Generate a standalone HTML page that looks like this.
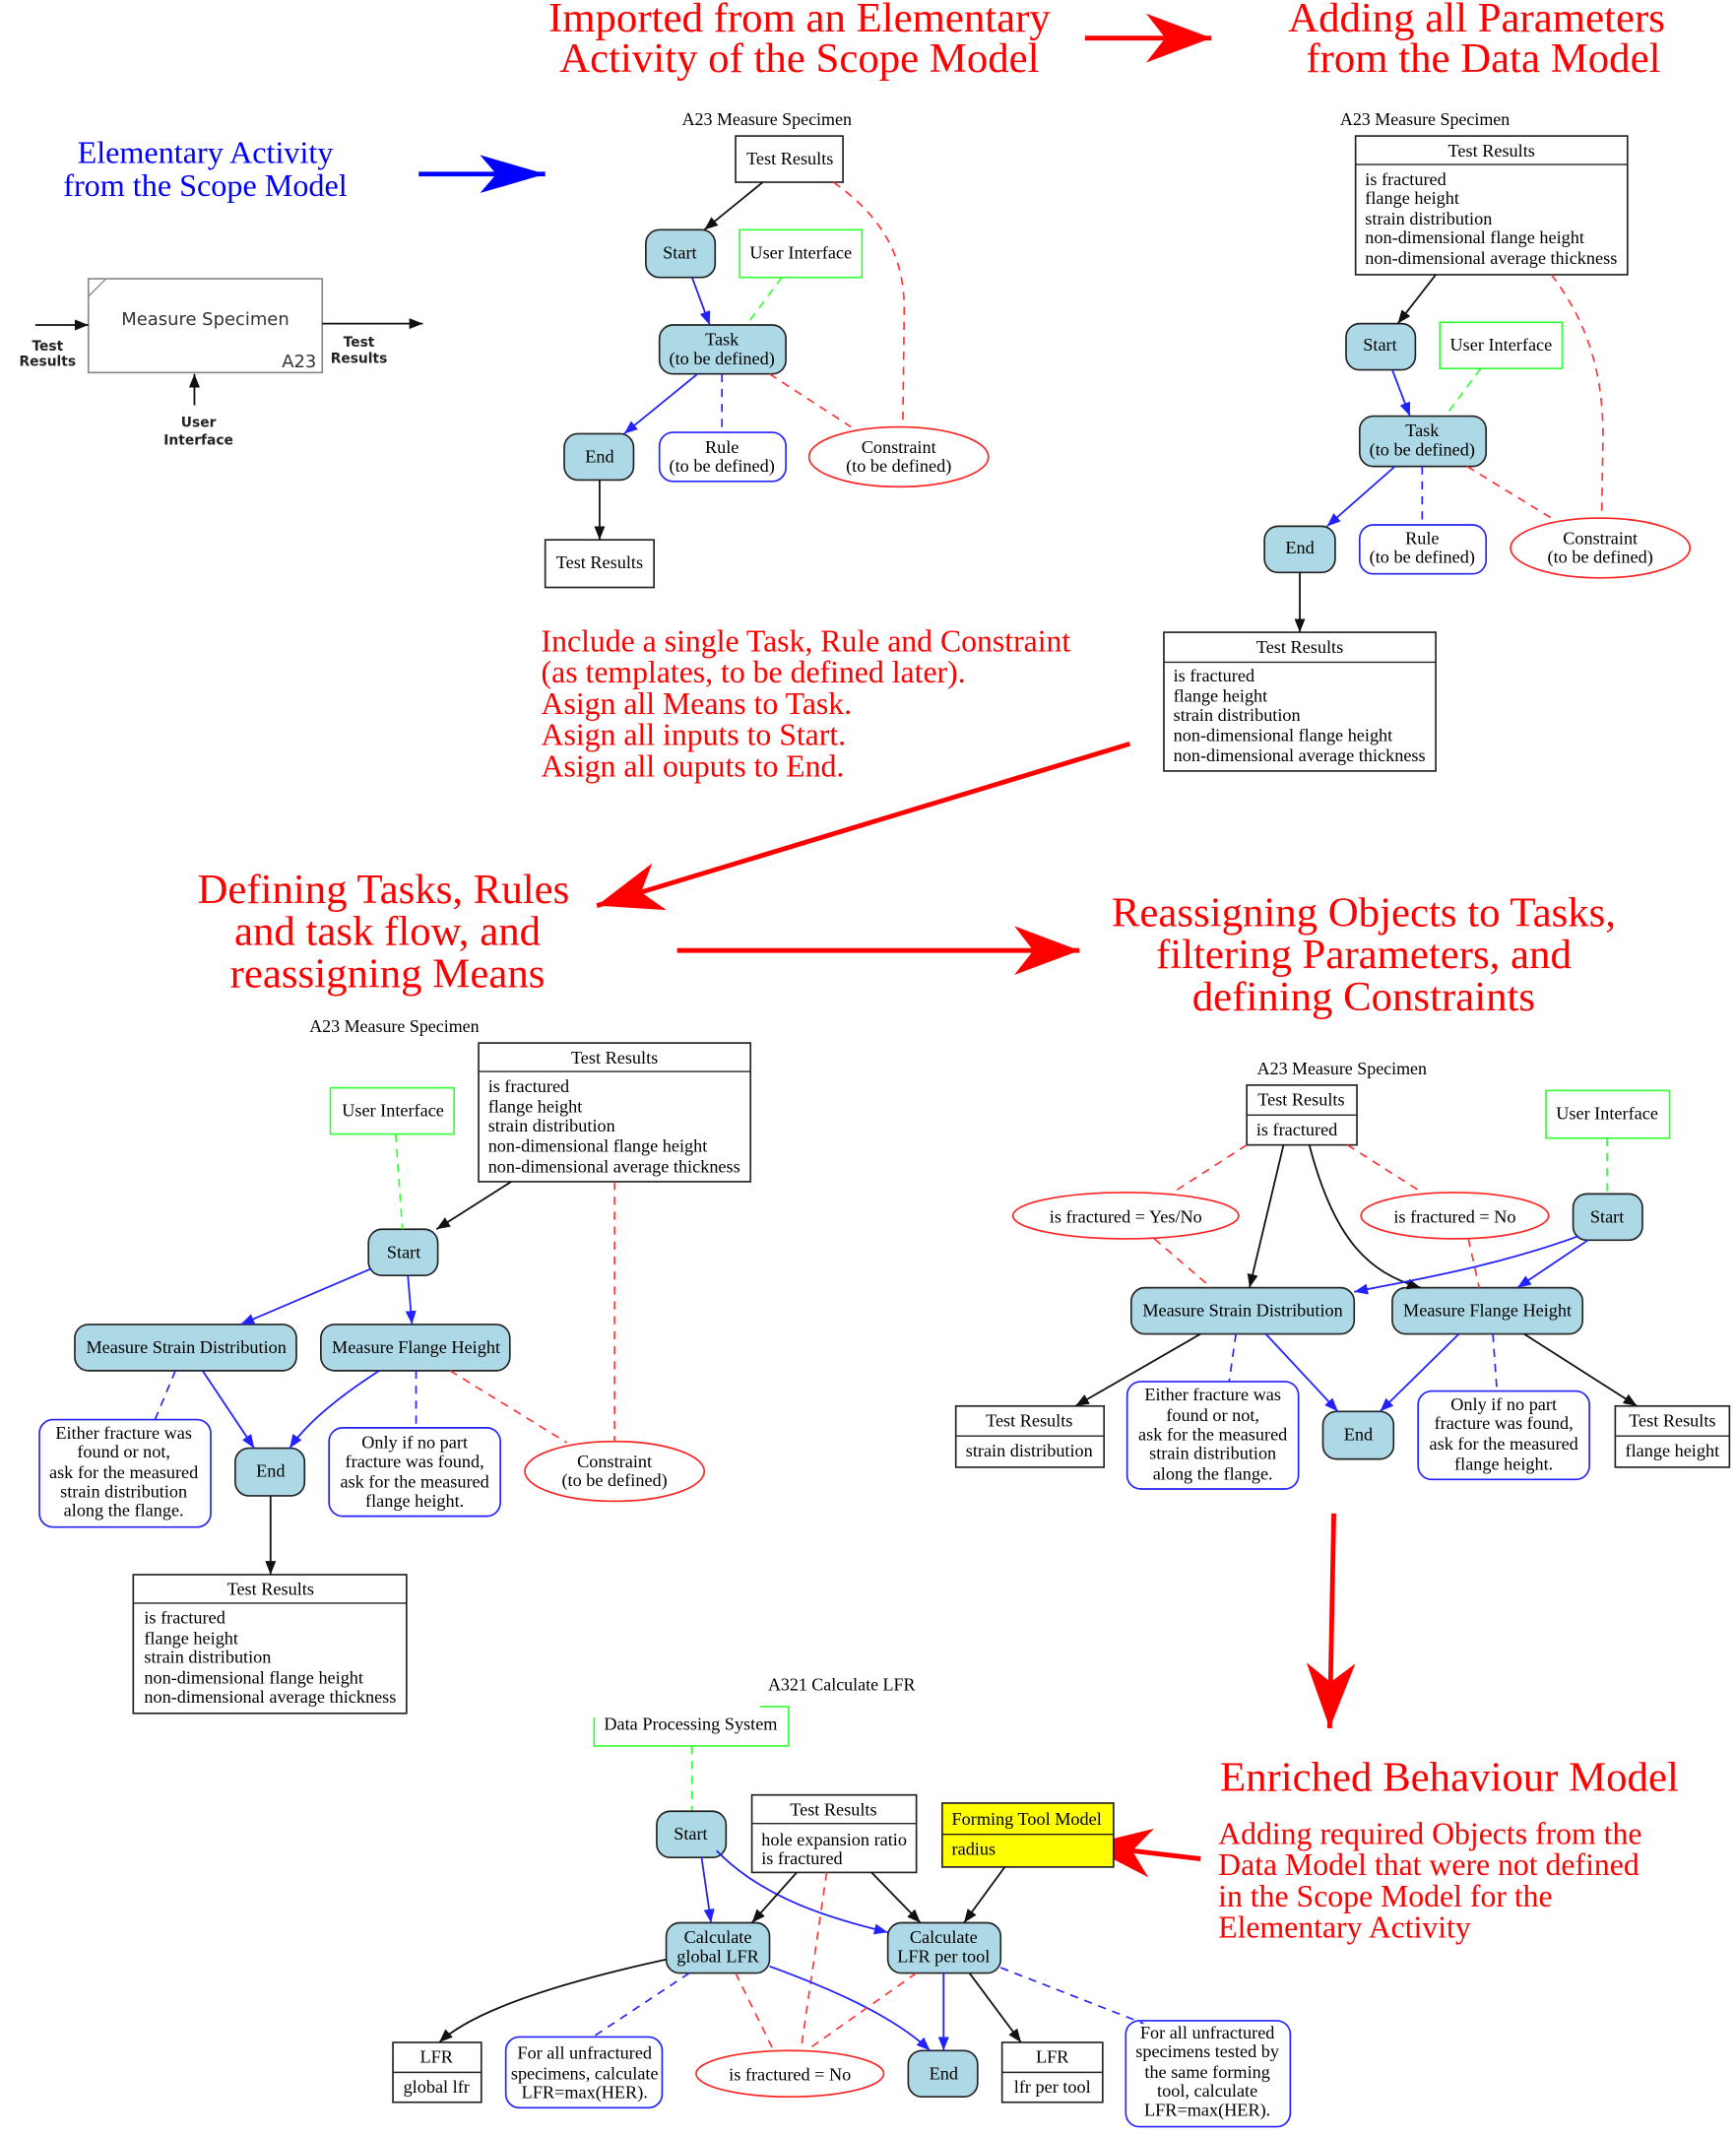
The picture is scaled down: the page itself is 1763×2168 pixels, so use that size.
<!DOCTYPE html>
<html><head><meta charset="utf-8"><style>
html,body{margin:0;padding:0;background:#fff}
svg{display:block}
text{font-family:"Liberation Serif",serif}
.n{font-size:13.2px;text-anchor:middle}
.l{font-size:13.2px}
.h{font-size:31px;fill:#f00;text-anchor:middle}
.r{font-size:23px;fill:#f00}
.tl{font-size:13px;text-anchor:middle}
.node{fill:#add8e6;stroke:#222;stroke-width:1.2}
.box{fill:#fff;stroke:#222;stroke-width:1.2}
.gb{fill:#fff;stroke:#3f3;stroke-width:1.2}
.bn{fill:#fff;stroke:#22f;stroke-width:1.2}
.ce{fill:#fff;stroke:#f22;stroke-width:1.2}
.k{stroke:#111;stroke-width:1.3;fill:none;marker-end:url(#ak)}
.b{stroke:#22f;stroke-width:1.3;fill:none;marker-end:url(#ab)}
.bd{stroke:#22f;stroke-width:1.2;fill:none;stroke-dasharray:6,5}
.rd{stroke:#f33;stroke-width:1.2;fill:none;stroke-dasharray:6,5}
.gd{stroke:#3f3;stroke-width:1.2;fill:none;stroke-dasharray:6,5}
.R{stroke:#f00;stroke-width:3.5;fill:none;marker-end:url(#aR)}
.B{stroke:#00f;stroke-width:3.5;fill:none;marker-end:url(#aB)}
.s,.s text{font-family:"DejaVu Sans",sans-serif}
</style></head><body>
<svg width="1763" height="2168" viewBox="0 0 1280 1574" preserveAspectRatio="none" xmlns="http://www.w3.org/2000/svg">
<defs>
<marker id="ak" markerUnits="userSpaceOnUse" markerWidth="11" markerHeight="8" refX="10" refY="4" orient="auto"><path d="M0,0 L10,4 L0,8 z" fill="#111"/></marker>
<marker id="ab" markerUnits="userSpaceOnUse" markerWidth="11" markerHeight="8" refX="10" refY="4" orient="auto"><path d="M0,0 L10,4 L0,8 z" fill="#22f"/></marker>
<marker id="aR" markerUnits="userSpaceOnUse" markerWidth="50" markerHeight="40" refX="48" refY="20" orient="auto"><path d="M0,2 L48,20 L0,38 L14,20 z" fill="#f00"/></marker>
<marker id="aB" markerUnits="userSpaceOnUse" markerWidth="50" markerHeight="40" refX="48" refY="20" orient="auto"><path d="M0,6 L48,20 L0,34 L12,20 z" fill="#00f"/></marker>
</defs>
<g transform="translate(1,1) scale(1.0025)">
<!-- headings -->
<text class="h" x="587" y="22">Imported from an Elementary</text>
<text class="h" x="587" y="52">Activity of the Scope Model</text>
<line class="R" x1="797" y1="27" x2="890" y2="27"/>
<text class="h" x="1085" y="22">Adding all Parameters</text>
<text class="h" x="1090" y="52">from the Data Model</text>
<text x="150" y="119" style="font-size:23.3px;fill:#00f;text-anchor:middle">Elementary Activity</text>
<text x="150" y="143" style="font-size:23.3px;fill:#00f;text-anchor:middle">from the Scope Model</text>
<line class="B" x1="307" y1="127" x2="400" y2="127"/>

<!-- IDEF0 -->
<rect x="64" y="204" width="172" height="69" fill="#fff" stroke="#888" stroke-width="1.2"/>
<line x1="64" y1="217" x2="77" y2="204" stroke="#888"/>
<g class="s"><text x="150" y="238" style="font-size:13px;text-anchor:middle;fill:#333">Measure Specimen</text>
<text x="219" y="269" style="font-size:13px;text-anchor:middle;fill:#333">A23</text></g>
<line class="k" x1="25" y1="238" x2="64" y2="238"/>
<line class="k" x1="236" y1="237" x2="310" y2="237"/>
<line class="k" x1="142" y1="297" x2="142" y2="274"/>
<g class="s" style="font-size:10px;font-weight:bold;fill:#222;text-anchor:middle">
<text x="34" y="257">Test</text><text x="34" y="268">Results</text>
<text x="263" y="254">Test</text><text x="263" y="266">Results</text>
<text x="145" y="313">User</text><text x="145" y="326">Interface</text></g>

<!-- Diagram 1 -->
<text class="tl" x="563" y="91">A23 Measure Specimen</text>
<rect class="box" x="540" y="99" width="79" height="34"/><text class="n" x="580" y="120">Test Results</text>
<rect class="node" x="474" y="168" width="51" height="35" rx="10"/><text class="n" x="499" y="189">Start</text>
<rect class="gb" x="543" y="168" width="90" height="35"/><text class="n" x="588" y="189">User Interface</text>
<rect class="node" x="484" y="238" width="93" height="36" rx="10"/><text class="n" x="530" y="253">Task</text><text class="n" x="530" y="267">(to be defined)</text>
<rect class="node" x="414" y="318" width="51" height="34" rx="10"/><text class="n" x="440" y="339">End</text>
<rect class="bn" x="484" y="317" width="93" height="36" rx="10"/><text class="n" x="530" y="332">Rule</text><text class="n" x="530" y="346">(to be defined)</text>
<ellipse class="ce" cx="660" cy="335" rx="66" ry="22"/><text class="n" x="660" y="332">Constraint</text><text class="n" x="660" y="346">(to be defined)</text>
<rect class="box" x="400" y="396" width="80" height="35"/><text class="n" x="440" y="417">Test Results</text>
<line class="k" x1="560" y1="133" x2="517" y2="168"/>
<line class="b" x1="508" y1="203" x2="521" y2="238"/>
<line class="gd" x1="574" y1="203" x2="548" y2="238"/>
<line class="b" x1="512" y1="274" x2="458" y2="318"/>
<line class="bd" x1="530" y1="274" x2="530" y2="317"/>
<line class="rd" x1="565" y1="274" x2="625" y2="313"/>
<path class="rd" d="M612,133 C650,160 665,190 664,230 L663,313"/>
<line class="k" x1="440" y1="352" x2="440" y2="396"/>

<!-- Diagram 2 -->
<text class="tl" x="1047" y="91">A23 Measure Specimen</text>
<rect class="box" x="996" y="99" width="200" height="102"/><line x1="996" y1="120" x2="1196" y2="120" stroke="#222"/>
<text class="n" x="1096" y="114">Test Results</text>
<g class="l"><text x="1003" y="135">is fractured</text><text x="1003" y="149">flange height</text><text x="1003" y="164">strain distribution</text><text x="1003" y="178">non-dimensional flange height</text><text x="1003" y="193">non-dimensional average thickness</text></g>
<rect class="node" x="989" y="237" width="51" height="34" rx="10"/><text class="n" x="1014" y="257">Start</text>
<rect class="gb" x="1058" y="236" width="90" height="34"/><text class="n" x="1103" y="257">User Interface</text>
<rect class="node" x="999" y="305" width="93" height="37" rx="10"/><text class="n" x="1045" y="320">Task</text><text class="n" x="1045" y="334">(to be defined)</text>
<rect class="node" x="929" y="386" width="52" height="34" rx="10"/><text class="n" x="955" y="406">End</text>
<rect class="bn" x="999" y="385" width="93" height="36" rx="10"/><text class="n" x="1045" y="399">Rule</text><text class="n" x="1045" y="413">(to be defined)</text>
<ellipse class="ce" cx="1176" cy="402" rx="66" ry="22"/><text class="n" x="1176" y="399">Constraint</text><text class="n" x="1176" y="413">(to be defined)</text>
<rect class="box" x="855" y="464" width="200" height="102"/><line x1="855" y1="486" x2="1055" y2="486" stroke="#222"/>
<text class="n" x="955" y="479">Test Results</text>
<g class="l"><text x="862" y="500">is fractured</text><text x="862" y="515">flange height</text><text x="862" y="529">strain distribution</text><text x="862" y="544">non-dimensional flange height</text><text x="862" y="559">non-dimensional average thickness</text></g>
<line class="k" x1="1055" y1="201" x2="1027" y2="237"/>
<line class="b" x1="1023" y1="271" x2="1036" y2="305"/>
<line class="gd" x1="1088" y1="270" x2="1062" y2="305"/>
<line class="b" x1="1025" y1="342" x2="975" y2="386"/>
<line class="bd" x1="1045" y1="342" x2="1045" y2="385"/>
<line class="rd" x1="1078" y1="342" x2="1140" y2="380"/>
<path class="rd" d="M1140,201 C1170,240 1178,280 1178,320 L1177,380"/>
<line class="k" x1="955" y1="420" x2="955" y2="464"/>

<g class="r"><text x="397" y="478">Include a single Task, Rule and Constraint</text><text x="397" y="501">(as templates, to be defined later).</text><text x="397" y="524">Asign all Means to Task.</text><text x="397" y="547">Asign all inputs to Start.</text><text x="397" y="570">Asign all ouputs to End.</text></g>
<line class="R" x1="830" y1="546" x2="438" y2="665"/>

<text class="h" x="281" y="663">Defining Tasks, Rules</text>
<text class="h" x="284" y="694">and task flow, and</text>
<text class="h" x="284" y="725">reassigning Means</text>
<line class="R" x1="497" y1="698" x2="793" y2="698"/>
<text class="h" x="1002" y="680">Reassigning Objects to Tasks,</text>
<text class="h" x="1002" y="711">filtering Parameters, and</text>
<text class="h" x="1002" y="742">defining Constraints</text>

<!-- Diagram 3 -->
<text class="tl" x="289" y="758">A23 Measure Specimen</text>
<rect class="box" x="351" y="766" width="200" height="102"/><line x1="351" y1="787" x2="551" y2="787" stroke="#222"/>
<text class="n" x="451" y="781">Test Results</text>
<g class="l"><text x="358" y="802">is fractured</text><text x="358" y="817">flange height</text><text x="358" y="831">strain distribution</text><text x="358" y="846">non-dimensional flange height</text><text x="358" y="861">non-dimensional average thickness</text></g>
<rect class="gb" x="242" y="799" width="91" height="34"/><text class="n" x="288" y="820">User Interface</text>
<rect class="node" x="270" y="903" width="51" height="34" rx="10"/><text class="n" x="296" y="924">Start</text>
<rect class="node" x="54" y="973" width="163" height="34" rx="10"/><text class="n" x="136" y="994">Measure Strain Distribution</text>
<rect class="node" x="235" y="973" width="139" height="34" rx="10"/><text class="n" x="305" y="994">Measure Flange Height</text>
<rect class="node" x="172" y="1064" width="51" height="35" rx="10"/><text class="n" x="198" y="1085">End</text>
<rect class="bn" x="28" y="1043" width="126" height="79" rx="10"/>
<g class="n"><text x="90" y="1057">Either fracture was</text><text x="90" y="1071">found or not,</text><text x="90" y="1086">ask for the measured</text><text x="90" y="1100">strain distribution</text><text x="90" y="1114">along the flange.</text></g>
<rect class="bn" x="241" y="1049" width="126" height="65" rx="10"/>
<g class="n"><text x="304" y="1064">Only if no part</text><text x="304" y="1078">fracture was found,</text><text x="304" y="1093">ask for the measured</text><text x="304" y="1107">flange height.</text></g>
<ellipse class="ce" cx="451" cy="1081" rx="66" ry="22"/><text class="n" x="451" y="1078">Constraint</text><text class="n" x="451" y="1092">(to be defined)</text>
<rect class="box" x="97" y="1157" width="201" height="102"/><line x1="97" y1="1178" x2="298" y2="1178" stroke="#222"/>
<text class="n" x="198" y="1172">Test Results</text>
<g class="l"><text x="105" y="1193">is fractured</text><text x="105" y="1208">flange height</text><text x="105" y="1222">strain distribution</text><text x="105" y="1237">non-dimensional flange height</text><text x="105" y="1251">non-dimensional average thickness</text></g>
<line class="k" x1="375" y1="868" x2="320" y2="903"/>
<line class="gd" x1="290" y1="833" x2="295" y2="903"/>
<line class="b" x1="272" y1="932" x2="176" y2="973"/>
<line class="b" x1="299" y1="937" x2="302" y2="973"/>
<line class="b" x1="148" y1="1007" x2="186" y2="1064"/>
<path class="b" d="M278,1007 C250,1025 225,1045 212,1064"/>
<line class="bd" x1="128" y1="1007" x2="113" y2="1043"/>
<line class="bd" x1="305" y1="1007" x2="305" y2="1049"/>
<line class="rd" x1="330" y1="1007" x2="416" y2="1060"/>
<line class="rd" x1="451" y1="868" x2="451" y2="1059"/>
<line class="k" x1="198" y1="1099" x2="198" y2="1157"/>

<!-- Diagram 4 -->
<text class="tl" x="986" y="789">A23 Measure Specimen</text>
<rect class="box" x="916" y="797" width="81" height="44"/><line x1="916" y1="819" x2="997" y2="819" stroke="#222"/>
<text class="n" x="956" y="812">Test Results</text><text class="l" x="923" y="834">is fractured</text>
<rect class="gb" x="1136" y="801" width="91" height="35"/><text class="n" x="1181" y="822">User Interface</text>
<rect class="node" x="1156" y="877" width="51" height="34" rx="10"/><text class="n" x="1181" y="898">Start</text>
<ellipse class="ce" cx="827" cy="893" rx="83" ry="17"/><text class="n" x="827" y="898">is fractured = Yes/No</text>
<ellipse class="ce" cx="1069" cy="893" rx="69" ry="17"/><text class="n" x="1069" y="898">is fractured = No</text>
<rect class="node" x="831" y="946" width="164" height="34" rx="10"/><text class="n" x="913" y="967">Measure Strain Distribution</text>
<rect class="node" x="1023" y="946" width="140" height="34" rx="10"/><text class="n" x="1093" y="967">Measure Flange Height</text>
<rect class="node" x="972" y="1037" width="52" height="35" rx="10"/><text class="n" x="998" y="1058">End</text>
<rect class="box" x="702" y="1033" width="109" height="45"/><line x1="702" y1="1055" x2="811" y2="1055" stroke="#222"/>
<text class="n" x="756" y="1048">Test Results</text><text class="n" x="756" y="1070">strain distribution</text>
<rect class="bn" x="828" y="1015" width="126" height="79" rx="10"/>
<g class="n"><text x="891" y="1029">Either fracture was</text><text x="891" y="1044">found or not,</text><text x="891" y="1058">ask for the measured</text><text x="891" y="1072">strain distribution</text><text x="891" y="1087">along the flange.</text></g>
<rect class="bn" x="1042" y="1022" width="126" height="65" rx="10"/>
<g class="n"><text x="1105" y="1036">Only if no part</text><text x="1105" y="1050">fracture was found,</text><text x="1105" y="1065">ask for the measured</text><text x="1105" y="1080">flange height.</text></g>
<rect class="box" x="1187" y="1033" width="84" height="45"/><line x1="1187" y1="1055" x2="1271" y2="1055" stroke="#222"/>
<text class="n" x="1229" y="1048">Test Results</text><text class="n" x="1229" y="1070">flange height</text>
<line class="k" x1="943" y1="841" x2="918" y2="946"/>
<path class="k" d="M962,841 C980,910 1005,935 1044,946"/>
<line class="gd" x1="1181" y1="836" x2="1181" y2="877"/>
<path class="b" d="M1160,908 C1100,930 1040,940 995,949"/>
<line class="b" x1="1167" y1="911" x2="1115" y2="946"/>
<line class="rd" x1="916" y1="841" x2="860" y2="877"/>
<line class="rd" x1="848" y1="910" x2="890" y2="946"/>
<line class="rd" x1="990" y1="841" x2="1045" y2="876"/>
<line class="rd" x1="1079" y1="910" x2="1087" y2="946"/>
<line class="k" x1="882" y1="980" x2="790" y2="1033"/>
<line class="bd" x1="908" y1="980" x2="903" y2="1015"/>
<line class="b" x1="930" y1="980" x2="983" y2="1037"/>
<line class="b" x1="1072" y1="980" x2="1014" y2="1037"/>
<line class="bd" x1="1097" y1="980" x2="1100" y2="1022"/>
<line class="k" x1="1120" y1="980" x2="1203" y2="1033"/>

<line class="R" x1="980" y1="1112" x2="977" y2="1270"/>
<text class="h" x="1065" y="1316">Enriched Behaviour Model</text>
<g class="r"><text x="895" y="1355">Adding required Objects from the</text><text x="895" y="1378">Data Model that were not defined</text><text x="895" y="1401">in the Scope Model for the</text><text x="895" y="1424">Elementary Activity</text></g>
<line class="R" x1="882" y1="1366" x2="798" y2="1356"/>

<!-- Diagram 5 -->
<text class="tl" x="618" y="1242">A321 Calculate LFR</text>
<text class="n" x="507" y="1271">Data Processing System</text>
<rect x="434" y="1248" width="123" height="13" fill="#fff"/>
<path d="M558,1254 L579,1254 L579,1283 L436,1283 L436,1262" fill="none" stroke="#3f3" stroke-width="1.2"/>
<line class="gd" x1="508" y1="1283" x2="508" y2="1331"/>
<rect class="node" x="482" y="1331" width="51" height="34" rx="10"/><text class="n" x="507" y="1352">Start</text>
<rect class="box" x="552" y="1319" width="121" height="57"/><line x1="552" y1="1340" x2="673" y2="1340" stroke="#222"/>
<text class="n" x="612" y="1334">Test Results</text><text class="l" x="559" y="1356">hole expansion ratio</text><text class="l" x="559" y="1370">is fractured</text>
<rect x="692" y="1325" width="126" height="47" fill="#ff0" stroke="#222" stroke-width="1.2"/><line x1="692" y1="1348" x2="818" y2="1348" stroke="#222"/>
<text class="l" x="699" y="1341">Forming Tool Model</text><text class="l" x="699" y="1363">radius</text>
<rect class="node" x="489" y="1413" width="76" height="37" rx="10"/><text class="n" x="527" y="1428">Calculate</text><text class="n" x="527" y="1442">global LFR</text>
<rect class="node" x="652" y="1413" width="83" height="37" rx="10"/><text class="n" x="693" y="1428">Calculate</text><text class="n" x="693" y="1442">LFR per tool</text>
<rect class="box" x="288" y="1501" width="65" height="44"/><line x1="288" y1="1523" x2="353" y2="1523" stroke="#222"/>
<text class="n" x="320" y="1516">LFR</text><text class="n" x="320" y="1538">global lfr</text>
<rect class="bn" x="371" y="1497" width="115" height="52" rx="10"/>
<g class="n"><text x="429" y="1513">For all unfractured</text><text x="429" y="1528">specimens, calculate</text><text x="429" y="1542">LFR=max(HER).</text></g>
<ellipse class="ce" cx="580" cy="1524" rx="69" ry="17"/><text class="n" x="580" y="1529">is fractured = No</text>
<rect class="node" x="667" y="1507" width="51" height="34" rx="10"/><text class="n" x="693" y="1528">End</text>
<rect class="box" x="736" y="1501" width="74" height="44"/><line x1="736" y1="1523" x2="810" y2="1523" stroke="#222"/>
<text class="n" x="773" y="1516">LFR</text><text class="n" x="773" y="1538">lfr per tool</text>
<rect class="bn" x="827" y="1485" width="121" height="78" rx="10"/>
<g class="n"><text x="887" y="1498">For all unfractured</text><text x="887" y="1512">specimens tested by</text><text x="887" y="1527">the same forming</text><text x="887" y="1541">tool, calculate</text><text x="887" y="1555">LFR=max(HER).</text></g>
<line class="b" x1="515" y1="1365" x2="522" y2="1413"/>
<path class="b" d="M526,1360 C560,1395 610,1410 652,1420"/>
<line class="k" x1="585" y1="1376" x2="552" y2="1413"/>
<line class="k" x1="640" y1="1376" x2="676" y2="1413"/>
<line class="k" x1="738" y1="1372" x2="708" y2="1413"/>
<line class="rd" x1="607" y1="1376" x2="588" y2="1507"/>
<path class="k" d="M489,1440 C420,1455 350,1475 322,1501"/>
<line class="bd" x1="506" y1="1450" x2="435" y2="1497"/>
<line class="rd" x1="540" y1="1450" x2="568" y2="1507"/>
<path class="b" d="M565,1445 C620,1465 660,1485 683,1507"/>
<line class="rd" x1="673" y1="1450" x2="592" y2="1507"/>
<line class="b" x1="693" y1="1450" x2="693" y2="1507"/>
<line class="k" x1="712" y1="1450" x2="750" y2="1501"/>
<line class="bd" x1="735" y1="1446" x2="840" y2="1487"/>
</g>
</svg>
</body></html>
